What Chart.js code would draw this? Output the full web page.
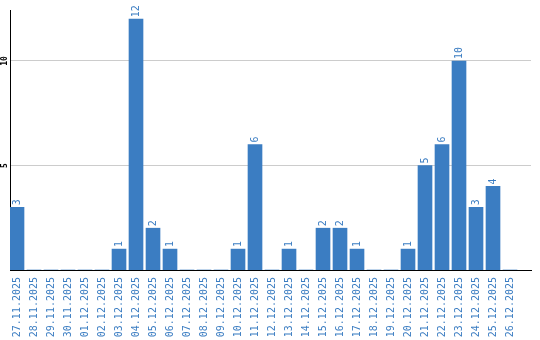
<!DOCTYPE html>
<html>
<head>
    <title>Daily count</title>
    <script src="https://cdn.jsdelivr.net/npm/chart.js"></script>
    <style>
        body { margin: 0; background: #fff; }
    </style>
</head>
<body>
    <canvas id="myChart" width="540" height="340"></canvas>
    <script>
const dates = [
    '27.11.2025', '28.11.2025', '29.11.2025', '30.11.2025', '01.12.2025',
    '02.12.2025', '03.12.2025', '04.12.2025', '05.12.2025', '06.12.2025',
    '07.12.2025', '08.12.2025', '09.12.2025', '10.12.2025', '11.12.2025',
    '12.12.2025', '13.12.2025', '14.12.2025', '15.12.2025', '16.12.2025',
    '17.12.2025', '18.12.2025', '19.12.2025', '20.12.2025', '21.12.2025',
    '22.12.2025', '23.12.2025', '24.12.2025', '25.12.2025', '26.12.2025'
];
const counts = [3, 0, 0, 0, 0, 0, 1, 12, 2, 1, 0, 0, 0, 1, 6, 0, 1, 0, 2, 2, 1, 0, 0, 1, 5, 6, 10, 3, 4, 0];
const yTicks = [5, 10];

const blue = '#3b7dc2';
const ctx = document.getElementById('myChart').getContext('2d');

// value written upwards above each bar
const barValues = {
    id: 'barValues',
    afterDatasetsDraw(chart) {
        const c = chart.ctx;
        const meta = chart.getDatasetMeta(0);
        c.save();
        c.fillStyle = blue;
        c.font = '10px "DejaVu Sans Mono"';
        c.textAlign = 'left';
        c.textBaseline = 'middle';
        meta.data.forEach((bar, i) => {
            if (!counts[i]) return;
            c.save();
            c.translate(bar.x, bar.y - 2);
            c.rotate(-Math.PI / 2);
            c.fillText(String(counts[i]), 0, 0);
            c.restore();
        });
        c.restore();
    }
};

// rotated y tick labels
const yLabels = {
    id: 'yLabels',
    afterDraw(chart) {
        const c = chart.ctx;
        const y = chart.scales.y;
        c.save();
        c.fillStyle = '#000';
        c.font = 'bold 8px "DejaVu Sans Mono"';
        c.textAlign = 'center';
        c.textBaseline = 'middle';
        yTicks.forEach(v => {
            c.save();
            c.translate(5, y.getPixelForValue(v));
            c.rotate(-Math.PI / 2);
            c.fillText(String(v), 0, 0);
            c.restore();
        });
        c.restore();
    }
};

new Chart(ctx, {
    type: 'bar',
    data: {
        datasets: [{
            data: counts.map((v, i) => ({ x: i, y: v })),
            backgroundColor: blue,
            barThickness: 14
        }]
    },
    options: {
        responsive: false,
        animation: false,
        layout: { padding: { left: 10, top: 10, right: 9, bottom: 0 } },
        plugins: { legend: { display: false }, tooltip: { enabled: false } },
        scales: {
            x: {
                type: 'linear',
                offset: false,
                bounds: 'data',
                min: -0.412,
                max: 30.235,
                afterBuildTicks: scale => {
                    scale.ticks = dates.map((d, i) => ({ value: i }));
                },
                afterFit: scale => {
                    scale.height = 70;
                    scale.paddingLeft = 0;
                    scale.paddingRight = 0;
                },
                grid: { display: false, drawTicks: false, offset: false },
                border: { display: true, color: '#000', width: 1 },
                ticks: {
                    autoSkip: false,
                    minRotation: 90,
                    maxRotation: 90,
                    padding: 7,
                    color: blue,
                    font: { family: 'DejaVu Sans Mono', size: 10 },
                    callback: v => dates[v]
                }
            },
            y: {
                min: 0,
                max: 12.44,
                afterBuildTicks: scale => { scale.ticks = yTicks.map(v => ({ value: v })); },
                afterFit: scale => { scale.width = 0; },
                grid: { color: '#cccccc', drawTicks: false },
                border: { display: true, color: '#000', width: 1 },
                ticks: { display: false }
            }
        }
    },
    plugins: [barValues, yLabels]
});
    </script>
</body>
</html>
